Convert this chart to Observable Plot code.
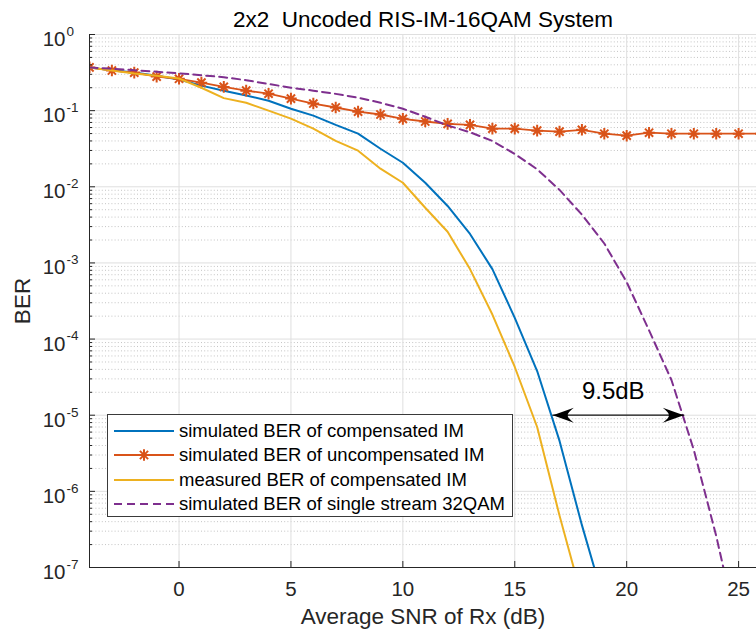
<!DOCTYPE html>
<html><head><meta charset="utf-8">
<script src="https://cdn.jsdelivr.net/npm/d3@7"></script>
<script src="https://cdn.jsdelivr.net/npm/@observablehq/plot@0.6"></script>
<style>
body{margin:0;background:#fff;}
#wrap{position:relative;width:756px;height:631px;overflow:hidden;}
#legend{position:absolute;left:107px;top:414px;width:404px;height:101px;border:1px solid #3a3a3a;background:#fff;font-family:"Liberation Sans",Arial,sans-serif;font-size:18.5px;color:#000;}
.row{position:absolute;left:0;height:24px;display:flex;align-items:center;white-space:nowrap;}
.row svg{display:block;}
.row span{margin-left:5px;}
</style></head><body><div id="wrap"></div>
<script>
// ---- data ----
const title = "2x2  Uncoded RIS-IM-16QAM System";
const xLabel = "Average SNR of Rx (dB)";
const yLabel = "BER";
const xDomain = [-4, 25.8];
const yDomain = [1e-7, 1];
const xTicks = [0, 5, 10, 15, 20, 25];
const yMajor = [1e-7, 1e-6, 1e-5, 1e-4, 1e-3, 1e-2, 1e-1, 1];

const snrComp = [-4,-3,-2,-1,0,1,2,3,4,5,6,7,8,9,10,11,12,13,14,15,16,17,18,19];
const berComp = [0.368,0.338,0.316,0.288,0.256,0.213,0.183,0.158,0.135,0.106,0.086,0.065,0.050,0.0316,0.0207,0.0113,0.0056,0.0024,8.3e-4,1.9e-4,3.8e-5,4.6e-6,3.6e-7,3.5e-8];

const snrUncomp = [-4,-3,-2,-1,0,1,2,3,4,5,6,7,8,9,10,11,12,13,14,15,16,17,18,19,20,21,22,23,24,25,26];
const berUncomp = [0.37,0.336,0.316,0.28,0.262,0.233,0.205,0.183,0.167,0.144,0.124,0.11,0.097,0.089,0.078,0.072,0.067,0.065,0.058,0.058,0.0546,0.053,0.056,0.0498,0.0469,0.0513,0.0498,0.0498,0.0498,0.0498,0.0498];

const snrMeas = [-4,-3,-2,-1,0,1,2,3,4,5,6,7,8,9,10,11,12,13,14,15,16,17,18];
const berMeas = [0.368,0.336,0.307,0.288,0.264,0.2,0.146,0.127,0.1,0.0785,0.058,0.040,0.0298,0.0173,0.0113,0.0053,0.00257,8.3e-4,2.1e-4,4.3e-5,7e-6,4.8e-7,4e-8];

const snrQam = [-4,-3,-2,-1,0,1,2,3,4,5,6,7,8,9,10,11,12,13,14,15,16,17,18,19,20,21,22,23,24,25];
const berQam = [0.368,0.356,0.339,0.324,0.309,0.292,0.275,0.251,0.224,0.2,0.183,0.166,0.148,0.127,0.106,0.083,0.064,0.052,0.040,0.027,0.017,0.0091,0.0043,0.0018,5.6e-4,1.3e-4,2.9e-5,3.5e-6,2.6e-7,1.3e-8];

const arrowX = [16.7, 22.55];
const arrowBer = 1e-5;
const annX = 19.4;
const annText = "9.5dB";

const seriesNames = [
  "simulated BER of compensated IM",
  "simulated BER of uncompensated IM",
  "measured BER of compensated IM",
  "simulated BER of single stream 32QAM"
];
const colors = ["#0072BD", "#D95319", "#EDB120", "#7E2F8E"];

// ---- build ----
const toRows = (xs, ys) => xs.map((x, i) => ({x, y: ys[i]}));
const comp = toRows(snrComp, berComp);
const uncomp = toRows(snrUncomp, berUncomp);
const meas = toRows(snrMeas, berMeas);
const qam = toRows(snrQam, berQam);
const yMinor = [];
for (const d of yMajor.slice(0, -1)) for (let k = 2; k <= 9; k++) yMinor.push(d * k);

const W = 756, H = 631, mL = 89, mR = 0, mT = 34, mB = 64;
const frameW = W - mL - mR, frameH = H - mT - mB;
const axisColor = "#262626";

const star = {draw(ctx) {
  const a = 5.8, b = a * Math.SQRT1_2;
  ctx.moveTo(-a, 0); ctx.lineTo(a, 0);
  ctx.moveTo(0, -a); ctx.lineTo(0, a);
  ctx.moveTo(-b, -b); ctx.lineTo(b, b);
  ctx.moveTo(-b, b); ctx.lineTo(b, -b);
}};
const headLeft = {draw(ctx) {
  ctx.moveTo(0, 0); ctx.lineTo(21, -7.5); ctx.quadraticCurveTo(14, -2, 15, 0); ctx.quadraticCurveTo(14, 2, 21, 7.5); ctx.closePath();
}};
const headRight = {draw(ctx) {
  ctx.moveTo(0, 0); ctx.lineTo(-21, -7.5); ctx.quadraticCurveTo(-14, -2, -15, 0); ctx.quadraticCurveTo(-14, 2, -21, 7.5); ctx.closePath();
}};
const arrowRows = arrowX.map(x => ({x, y: arrowBer}));

const chart = Plot.plot({
  width: W, height: H,
  marginLeft: mL, marginRight: mR, marginTop: mT, marginBottom: mB,
  style: {fontFamily: "'Liberation Sans', Arial, sans-serif", background: "#fff", overflow: "visible"},
  x: {domain: xDomain, axis: null},
  y: {type: "log", domain: yDomain, axis: null},
  marks: [
    Plot.ruleY(yMinor, {y: d => d, stroke: "#c4c4c4", strokeDasharray: "1,2.2", strokeWidth: 1}),
    Plot.ruleY(yMajor, {y: d => d, stroke: "#dfdfdf", strokeWidth: 1}),
    Plot.ruleX(xTicks, {x: d => d, stroke: "#dfdfdf", strokeWidth: 1}),
    Plot.line(comp, {x: "x", y: "y", stroke: colors[0], strokeWidth: 2, clip: true}),
    Plot.line(uncomp, {x: "x", y: "y", stroke: colors[1], strokeWidth: 1.8, clip: true}),
    Plot.dot(uncomp, {x: "x", y: "y", symbol: star, stroke: colors[1], fill: "none", strokeWidth: 2, clip: true}),
    Plot.line(meas, {x: "x", y: "y", stroke: colors[2], strokeWidth: 2, clip: true}),
    Plot.line(qam, {x: "x", y: "y", stroke: colors[3], strokeWidth: 2, strokeDasharray: "8,5", clip: true}),
    // annotation arrow
    Plot.line(arrowRows, {x: "x", y: "y", stroke: "#111", strokeWidth: 1.3}),
    Plot.dot(arrowRows.slice(0, 1), {x: "x", y: "y", symbol: headLeft, fill: "#000", stroke: "none"}),
    Plot.dot(arrowRows.slice(1), {x: "x", y: "y", symbol: headRight, fill: "#000", stroke: "none"}),
    Plot.text([annText], {x: annX, y: arrowBer, text: d => d, dy: -24, fontSize: 24, fill: "#000"}),
    // axes
    Plot.ruleX([xDomain[0]], {x: d => d, stroke: axisColor, strokeWidth: 1}),
    Plot.ruleY([yDomain[0]], {y: d => d, stroke: axisColor, strokeWidth: 1}),
    Plot.ruleX(xTicks, {x: d => d, insetTop: frameH - 6, stroke: axisColor}),
    Plot.ruleY(yMajor, {y: d => d, insetRight: frameW - 6, stroke: axisColor}),
    Plot.ruleY(yMinor, {y: d => d, insetRight: frameW - 3, stroke: axisColor}),
    Plot.text(xTicks, {x: d => d, text: d => String(d), frameAnchor: "bottom", lineAnchor: "middle", dy: 22, fontSize: 20.5, fill: axisColor}),
    Plot.text(yMajor, {y: d => d, text: () => "10", frameAnchor: "left", textAnchor: "end", lineAnchor: "middle", dx: -24, dy: 5, fontSize: 20.5, fill: axisColor}),
    Plot.text(yMajor, {y: d => d, text: d => String(Math.round(Math.log10(d))), frameAnchor: "left", textAnchor: "start", lineAnchor: "middle", dx: -23, dy: -3, fontSize: 13.5, fill: axisColor}),
    Plot.text([title], {text: d => d, frameAnchor: "top", lineAnchor: "middle", dy: -15, fontSize: 22.5, fill: "#000"}),
    Plot.text([xLabel], {text: d => d, frameAnchor: "bottom", lineAnchor: "middle", dy: 49, fontSize: 22.5, fill: axisColor}),
    Plot.text([yLabel], {text: d => d, frameAnchor: "left", textAnchor: "middle", lineAnchor: "middle", dx: -67, rotate: -90, fontSize: 22.5, fill: axisColor})
  ]
});
const wrap = document.getElementById("wrap");
wrap.appendChild(chart);

// legend
const legend = document.createElement("div");
legend.id = "legend";
const rowTops = [16, 40, 65, 89];
seriesNames.forEach((name, i) => {
  const row = document.createElement("div");
  row.className = "row";
  row.style.top = (rowTops[i] - 12) + "px";
  const ns = "http://www.w3.org/2000/svg";
  const svg = document.createElementNS(ns, "svg");
  svg.setAttribute("width", 66); svg.setAttribute("height", 24);
  const ln = document.createElementNS(ns, "line");
  ln.setAttribute("x1", 6); ln.setAttribute("x2", 66); ln.setAttribute("y1", 12); ln.setAttribute("y2", 12);
  ln.setAttribute("stroke", colors[i]); ln.setAttribute("stroke-width", i === 1 ? 1.8 : 2);
  if (i === 3) ln.setAttribute("stroke-dasharray", "8,5");
  svg.appendChild(ln);
  if (i === 1) {
    const p = d3.path(); star.draw(p);
    const st = document.createElementNS(ns, "path");
    st.setAttribute("d", p.toString()); st.setAttribute("transform", "translate(36,12)");
    st.setAttribute("stroke", colors[1]); st.setAttribute("stroke-width", 2); st.setAttribute("fill", "none");
    svg.appendChild(st);
  }
  row.appendChild(svg);
  const sp = document.createElement("span");
  sp.textContent = name;
  row.appendChild(sp);
  legend.appendChild(row);
});
wrap.appendChild(legend);
</script></body></html>
